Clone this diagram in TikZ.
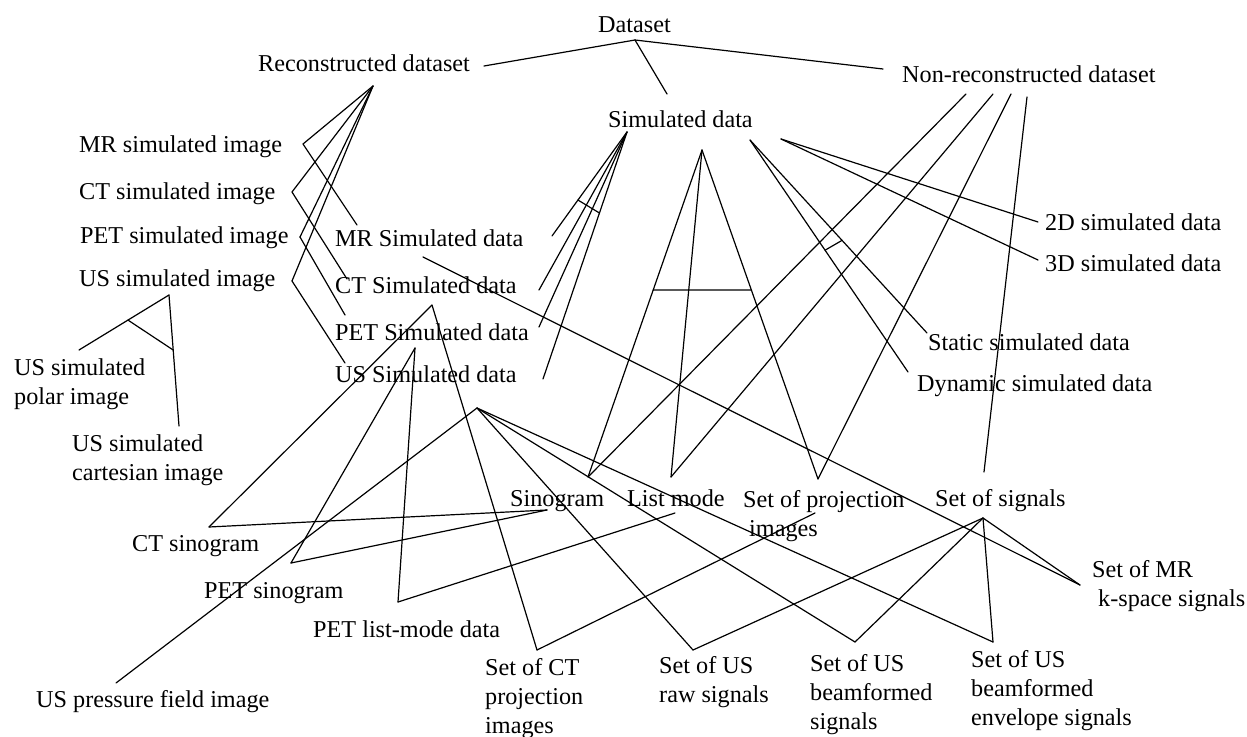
\documentclass[tikz,border=0pt]{standalone}
\usepackage{fontspec}
\setmainfont{Liberation Serif}
\usetikzlibrary{calc}
\newcommand{\ml}[1]{\begin{tabular}[t]{@{}l@{}}#1\end{tabular}}
\begin{document}
\begin{tikzpicture}[x=1pt,y=-1pt,
  lbl/.style={inner sep=0pt,anchor=base west,font=\fontsize{24.2}{29}\selectfont},
  conn/.style={line width=1.2pt,black,line cap=round}]
\useasboundingbox (0,0) rectangle (1247,736);
% ---- text nodes
\node[lbl] (ds) at (598,32) {Dataset};
\node[lbl] (rec) at (258,71) {Reconstructed dataset};
\node[lbl] (non) at (902,82) {Non-reconstructed dataset};
\node[lbl] (sim) at (608,127) {Simulated data};
\node[lbl] (mrimg) at (79,152) {MR simulated image};
\node[lbl] (ctimg) at (79,199) {CT simulated image};
\node[lbl] (petimg) at (80,243) {PET simulated image};
\node[lbl] (usimg) at (79,286) {US simulated image};
\node[lbl] (mrsd) at (335,246) {MR Simulated data};
\node[lbl] (ctsd) at (335,293) {CT Simulated data};
\node[lbl] (petsd) at (335,340) {PET Simulated data};
\node[lbl] (ussd) at (335,382) {US Simulated data};
\node[lbl] (polar) at (14,375) {\ml{US simulated\\polar image}};
\node[lbl] (cart) at (72,451) {\ml{US simulated\\cartesian image}};
\node[lbl] (twod) at (1045,230) {2D simulated data};
\node[lbl] (threed) at (1045,271) {3D simulated data};
\node[lbl] (static) at (928,350) {Static simulated data};
\node[lbl] (dyn) at (917,391) {Dynamic simulated data};
\node[lbl] (sino) at (510,506) {Sinogram};
\node[lbl] (list) at (627,506) {List mode};
\node[lbl] (proj) at (743,507) {\ml{Set of projection\\\hspace{6pt}images}};
\node[lbl] (sig) at (935,506) {Set of signals};
\node[lbl] (kspace) at (1092,577) {\ml{Set of MR\\\hspace{6pt}k-space signals}};
\node[lbl] (ctsino) at (132,551) {CT sinogram};
\node[lbl] (petsino) at (204,598) {PET sinogram};
\node[lbl] (petlist) at (313,637) {PET list-mode data};
\node[lbl] (press) at (36,707) {US pressure field image};
\node[lbl] (ctproj) at (485,675) {\ml{Set of CT\\projection\\images}};
\node[lbl] (usraw) at (659,673) {\ml{Set of US\\raw signals}};
\node[lbl] (usbf) at (810,671) {\ml{Set of US\\beamformed\\signals}};
\node[lbl] (usenv) at (971,667) {\ml{Set of US\\beamformed\\envelope signals}};
% ---- connection points
\coordinate (ds-b) at (635,40);
\coordinate (rec-r) at (484,66);
\coordinate (rec-b) at (373,86);
\coordinate (non-l) at (883,69);
\coordinate (non-b1) at (966,94);
\coordinate (non-b2) at (993,94);
\coordinate (non-b3) at (1011,94);
\coordinate (non-b4) at (1027,97);
\coordinate (sim-t) at (667,94);
\coordinate (sim-bl) at (627,132);
\coordinate (sim-bm) at (702,150);
\coordinate (sim-br1) at (750,140);
\coordinate (sim-br2) at (781,139);
\coordinate (mrimg-r) at (303,144);
\coordinate (ctimg-r) at (292,192);
\coordinate (petimg-r) at (300,237);
\coordinate (usimg-r) at (292,281);
\coordinate (usimg-b) at (169,295);
\coordinate (polar-t) at (79,350);
\coordinate (cart-t) at (179,426);
\coordinate (mrsd-l) at (357,225);
\coordinate (ctsd-l) at (347,279);
\coordinate (petsd-l) at (345,315);
\coordinate (ussd-l) at (345,363);
\coordinate (mrsd-r) at (552,236);
\coordinate (ctsd-r) at (539,290);
\coordinate (petsd-r) at (539,327);
\coordinate (ussd-r) at (543,379);
\coordinate (mrsd-x) at (423,257);
\coordinate (ctsd-b) at (432,305);
\coordinate (petsd-b) at (415,348);
\coordinate (ussd-b) at (477,408);
\coordinate (twod-l) at (1038,222);
\coordinate (threed-l) at (1038,260);
\coordinate (static-l) at (927,333);
\coordinate (dyn-l) at (908,372);
\coordinate (sino-t) at (588,477);
\coordinate (sino-b) at (547,510);
\coordinate (list-t) at (671,477);
\coordinate (list-b) at (675,513);
\coordinate (proj-t) at (818,479);
\coordinate (proj-b) at (815,513);
\coordinate (sig-t) at (984,472);
\coordinate (sig-b) at (983,518);
\coordinate (kspace-l) at (1080,585);
\coordinate (ctsino-r) at (209,527);
\coordinate (petsino-r) at (291,563);
\coordinate (petlist-r) at (398,602);
\coordinate (press-t) at (116,683);
\coordinate (ctproj-t) at (537,650);
\coordinate (usraw-t) at (693,650);
\coordinate (usbf-t) at (855,642);
\coordinate (usenv-t) at (993,642);
% ---- connectors
\draw[conn] (ds-b) -- (rec-r);
\draw[conn] (ds-b) -- (sim-t);
\draw[conn] (ds-b) -- (non-l);
\foreach \c in {mrimg-r,ctimg-r,petimg-r,usimg-r} \draw[conn] (rec-b) -- (\c);
\draw[conn] (mrimg-r) -- (mrsd-l);
\draw[conn] (ctimg-r) -- (ctsd-l);
\draw[conn] (petimg-r) -- (petsd-l);
\draw[conn] (usimg-r) -- (ussd-l);
\draw[conn] (usimg-b) -- (polar-t);
\draw[conn] (usimg-b) -- (cart-t);
\draw[conn] ($(usimg-b)!0.456!(polar-t)$) -- ($(usimg-b)!0.42!(cart-t)$);
\foreach \c in {mrsd-r,ctsd-r,petsd-r,ussd-r} \draw[conn] (sim-bl) -- (\c);
\draw[conn] ($(sim-bl)!0.654!(mrsd-r)$) -- ($(sim-bl)!0.328!(ussd-r)$);
\foreach \c in {sino-t,list-t,proj-t} \draw[conn] (sim-bm) -- (\c);
\draw[conn] ($(sim-bm)!0.428!(sino-t)$) -- ($(sim-bm)!0.4255!(proj-t)$);
\draw[conn] (sim-br1) -- (static-l);
\draw[conn] (sim-br1) -- (dyn-l);
\draw[conn] ($(sim-br1)!0.52!(static-l)$) -- ($(sim-br1)!0.475!(dyn-l)$);
\draw[conn] (sim-br2) -- (twod-l);
\draw[conn] (sim-br2) -- (threed-l);
\draw[conn] (non-b1) -- (sino-t);
\draw[conn] (non-b2) -- (list-t);
\draw[conn] (non-b3) -- (proj-t);
\draw[conn] (non-b4) -- (sig-t);
\draw[conn] (mrsd-x) -- (kspace-l);
\draw[conn] (ctsd-b) -- (ctsino-r);
\draw[conn] (ctsd-b) -- (ctproj-t);
\draw[conn] (petsd-b) -- (petsino-r);
\draw[conn] (petsd-b) -- (petlist-r);
\foreach \c in {press-t,usraw-t,usbf-t,usenv-t} \draw[conn] (ussd-b) -- (\c);
\draw[conn] (sino-b) -- (ctsino-r);
\draw[conn] (sino-b) -- (petsino-r);
\draw[conn] (list-b) -- (petlist-r);
\draw[conn] (proj-b) -- (ctproj-t);
\foreach \c in {kspace-l,usenv-t,usbf-t,usraw-t} \draw[conn] (sig-b) -- (\c);
\end{tikzpicture}
\end{document}
